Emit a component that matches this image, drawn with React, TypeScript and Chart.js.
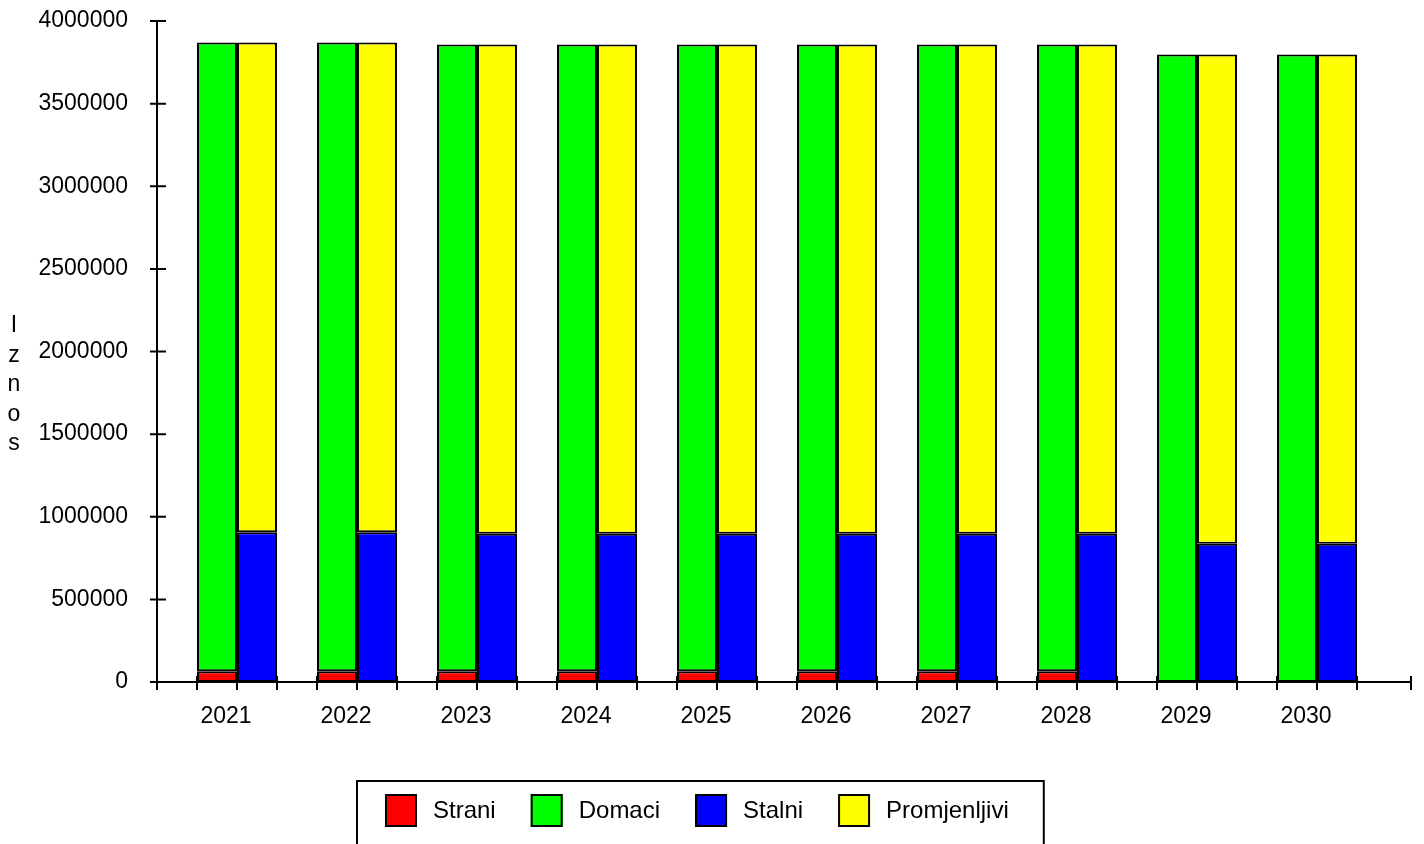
import React, { useEffect, useRef } from 'react';
import { Chart, registerables } from 'chart.js';

Chart.register(...registerables);

const years = ['2021', '2022', '2023', '2024', '2025', '2026', '2027', '2028', '2029', '2030'];
const strani = [65000, 65000, 65000, 65000, 65000, 65000, 65000, 65000, 0, 0];
const domaci = [3805000, 3805000, 3793000, 3793000, 3793000, 3793000, 3793000, 3793000, 3797000, 3797000];
const stalni = [906000, 906000, 897000, 897000, 897000, 897000, 897000, 897000, 837000, 837000];
const promjenljivi = [2964000, 2964000, 2961000, 2961000, 2961000, 2961000, 2961000, 2961000, 2960000, 2960000];
const yMax = 4000000;
const yStep = 500000;
const yTitle = 'Iznos';

const FONT = 'Arial, "Liberation Sans", sans-serif';

const seriesDefs = [
  { label: 'Strani', data: strani, color: '#ff0000', stack: 'a' },
  { label: 'Domaci', data: domaci, color: '#00ff00', stack: 'a' },
  { label: 'Stalni', data: stalni, color: '#0000ff', stack: 'b' },
  { label: 'Promjenljivi', data: promjenljivi, color: '#ffff00', stack: 'b' },
];

const customPlugin = {
  id: 'customAxesLegend',
  afterDatasetsDraw(chart: any) {
    const { ctx, chartArea, scales } = chart;
    const x = scales.x;
    const y = scales.y;
    const catW = x.getPixelForValue(1) - x.getPixelForValue(0);
    const axisX = chartArea.left - catW / 6;
    const y0 = y.getPixelForValue(0);
    const yTop = y.getPixelForValue(yMax);
    ctx.save();
    ctx.strokeStyle = '#000';
    ctx.lineWidth = 2;
    ctx.beginPath();
    ctx.moveTo(axisX, yTop);
    ctx.lineTo(axisX, y0);
    ctx.moveTo(axisX, y0);
    ctx.lineTo(chartArea.right + 34, y0);
    y.ticks.forEach((t: any) => {
      const py = y.getPixelForValue(t.value);
      ctx.moveTo(axisX - 7, py);
      ctx.lineTo(axisX + 9, py);
    });
    for (let k = 0; k <= years.length * 3; k++) {
      const px = axisX + (k * catW) / 3;
      ctx.moveTo(px, y0 - 6);
      ctx.lineTo(px, y0 + 8);
    }
    ctx.moveTo(chartArea.right + 34, y0 - 6);
    ctx.lineTo(chartArea.right + 34, y0 + 8);
    ctx.stroke();

    // vertical stacked y title
    ctx.fillStyle = '#000';
    ctx.font = `23px ${FONT}`;
    ctx.textAlign = 'center';
    ctx.textBaseline = 'alphabetic';
    const letters = yTitle.split('');
    letters.forEach((ch, i) => {
      ctx.fillText(ch, 14, 332 + i * 29.5);
    });

    // legend
    ctx.font = `24px ${FONT}`;
    ctx.textAlign = 'left';
    ctx.textBaseline = 'middle';
    const boxLeft = 357;
    const boxTop = 781;
    let cx = boxLeft + 28;
    const swTop = 794;
    const sw = 32;
    const sh = 33;
    const items = chart.data.datasets.map((d: any) => ({ label: d.label, color: d.backgroundColor }));
    items.forEach((it: any) => {
      ctx.fillStyle = it.color;
      ctx.fillRect(cx, swTop, sw, sh);
      ctx.lineWidth = 2;
      ctx.strokeStyle = '#000';
      ctx.strokeRect(cx + 1, swTop + 1, sw - 2, sh - 2);
      ctx.fillStyle = '#000';
      ctx.fillText(it.label, cx + sw + 16, swTop + sh / 2 + 1);
      const tw = ctx.measureText(it.label).width;
      cx += sw + 16 + tw + 35;
    });
    ctx.lineWidth = 2;
    ctx.strokeStyle = '#000';
    ctx.strokeRect(boxLeft, boxTop, cx - boxLeft, 100);
    ctx.restore();
  },
};

export default function App() {
  const ref = useRef<HTMLCanvasElement>(null);
  useEffect(() => {
    document.body.style.margin = '0';
    const canvas = ref.current;
    if (!canvas) return;
    const chart = new Chart(canvas, {
      type: 'bar',
      data: {
        labels: years,
        datasets: seriesDefs.map((s) => ({
          label: s.label,
          data: s.data,
          backgroundColor: s.color,
          borderColor: '#000',
          borderWidth: 2,
          borderSkipped: false,
          stack: s.stack,
          categoryPercentage: 2 / 3,
          barPercentage: 1,
        })),
      },
      options: {
        responsive: false,
        animation: false,
        devicePixelRatio: 1,
        layout: { padding: { left: 0, right: 47, top: 21, bottom: 0 } },
        plugins: { legend: { display: false }, tooltip: { enabled: false }, title: { display: false } },
        scales: {
          x: {
            stacked: true,
            grid: { display: false, drawTicks: false },
            border: { display: false },
            ticks: {
              font: { family: FONT, size: 23 },
              color: '#000',
              padding: 21,
              labelOffset: -11,
              maxRotation: 0,
              autoSkip: false,
            },
            afterFit: (s: any) => {
              s.height = 162;
              s.paddingLeft = 0;
              s.paddingRight = 0;
            },
          },
          y: {
            stacked: true,
            min: 0,
            max: yMax,
            grid: { display: false, drawTicks: false },
            border: { display: false },
            ticks: {
              stepSize: yStep,
              font: { family: FONT, size: 23 },
              color: '#000',
              padding: 49,
              callback: (v: any) => String(v),
            },
            afterFit: (s: any) => {
              s.width = 177;
              s.paddingTop = 0;
              s.paddingBottom = 0;
            },
          },
        },
      },
      plugins: [customPlugin],
    } as any);
    return () => chart.destroy();
  }, []);
  return (
    <div style={{ width: 1424, height: 844, background: '#fff' }}>
      <canvas ref={ref} width={1424} height={844} style={{ display: 'block' }} />
    </div>
  );
}
